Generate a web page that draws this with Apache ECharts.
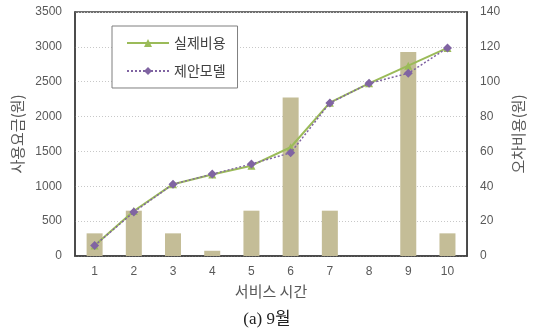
<!DOCTYPE html>
<html><head><meta charset="utf-8">
<script src="https://cdn.jsdelivr.net/npm/echarts@6/dist/echarts.min.js"></script>
<style>html,body{margin:0;padding:0;background:#fff}#c{width:534px;height:329px}</style>
</head><body><div id="c"></div>
<script>
const categories = ['1','2','3','4','5','6','7','8','9','10'];
const actualCost = [150, 645, 1030, 1170, 1295, 1560, 2200, 2477, 2730, 2985];
const proposedModel = [150, 630, 1030, 1175, 1320, 1480, 2195, 2477, 2620, 2985];
const errorCost = [13, 26, 13, 3, 26, 91, 26, 0, 117, 13];
const seriesNames = ['실제비용', '제안모델', '오차비용'];

const font = "'Noto Sans CJK KR', 'Noto Sans', sans-serif";
const tickFont = "'Liberation Sans', sans-serif";
const chart = echarts.init(document.getElementById('c'));
chart.setOption({
  animation: false,
  textStyle: { fontFamily: font },
  title: {
    text: '(a) 9월', left: 'center', top: 306,
    textStyle: { fontFamily: "'Liberation Serif', 'Noto Sans CJK KR', serif", fontSize: 17, fontWeight: 'normal', color: '#222' }
  },
  legend: {
    data: [seriesNames[0], seriesNames[1]],
    orient: 'vertical', left: 112, top: 26,
    padding: [10, 12, 10, 14], itemGap: 14,
    itemWidth: 42, itemHeight: 10,
    borderColor: '#7f7f7f', borderWidth: 1, backgroundColor: '#fff',
    textStyle: { fontSize: 14, color: '#404040', fontFamily: font }
  },
  grid: { left: 75, right: 60, top: 12, bottom: 73, show: true, borderColor: '#404040', borderWidth: 1.5 },
  xAxis: {
    type: 'category', data: categories,
    name: '서비스 시간', nameLocation: 'middle', nameGap: 28,
    nameTextStyle: { fontSize: 15, color: '#595959' },
    axisLine: { lineStyle: { color: '#404040', width: 1.5 } },
    axisTick: { show: false },
    axisLabel: { fontSize: 12, color: '#595959', margin: 10, fontFamily: tickFont }
  },
  yAxis: [
    {
      type: 'value', min: 0, max: 3500, interval: 500,
      name: '사용요금(원)', nameLocation: 'middle', nameRotate: 90, nameGap: 43,
      nameTextStyle: { fontSize: 15, color: '#595959' },
      axisLine: { show: true, lineStyle: { color: '#404040', width: 1.5 } },
      axisTick: { show: false },
      axisLabel: { fontSize: 12, color: '#595959', margin: 13, fontFamily: tickFont, formatter: v => String(v) },
      splitLine: { lineStyle: { color: '#c8c8c8', type: [1, 2] } }
    },
    {
      type: 'value', min: 0, max: 140, interval: 20,
      name: '오차비용(원)', nameLocation: 'middle', nameRotate: 90, nameGap: 37,
      nameTextStyle: { fontSize: 15, color: '#595959' },
      axisLine: { show: true, lineStyle: { color: '#404040', width: 1.5 } },
      axisTick: { show: false },
      axisLabel: { fontSize: 12, color: '#595959', margin: 13, fontFamily: tickFont, formatter: v => String(v) },
      splitLine: { show: false }
    }
  ],
  series: [
    {
      name: seriesNames[2], type: 'bar', yAxisIndex: 1, data: errorCost,
      barWidth: 16, z: 1,
      itemStyle: { color: '#c4bd97' }
    },
    {
      name: seriesNames[0], type: 'line', data: actualCost, z: 3,
      symbol: 'triangle', symbolSize: 8,
      lineStyle: { color: '#9bbb59', width: 2 },
      itemStyle: { color: '#9bbb59' }
    },
    {
      name: seriesNames[1], type: 'line', data: proposedModel, z: 4,
      symbol: 'diamond', symbolSize: 9,
      lineStyle: { color: '#8064a2', width: 1.5, type: [2, 2] },
      itemStyle: { color: '#8064a2' }
    }
  ]
});
</script></body></html>
